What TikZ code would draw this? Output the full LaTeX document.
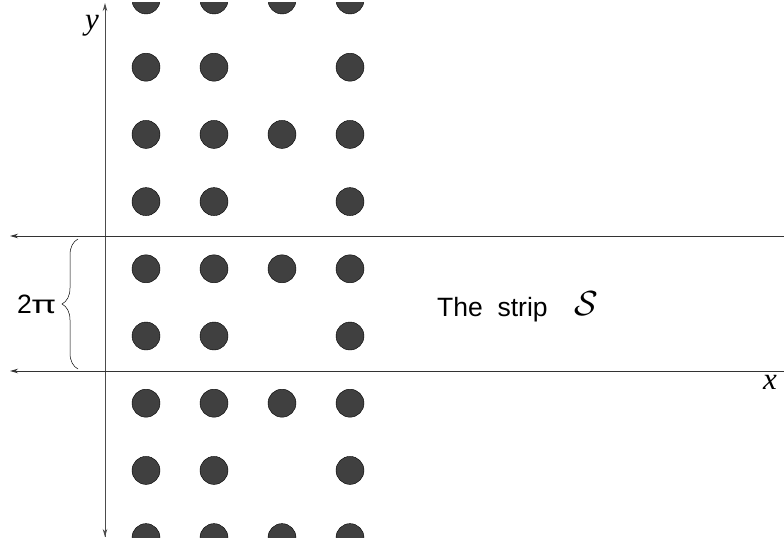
\documentclass[tikz,border=0pt]{standalone}
\usepackage{fontspec}
\setmainfont{Liberation Sans}
\newfontfamily\serifit{Liberation Serif}
\newfontfamily\pifont{Noto Sans}
\usetikzlibrary{arrows.meta,decorations.pathreplacing}
\begin{document}
\begin{tikzpicture}[x=1pt,y=1pt,
  dot/.style={circle,draw=black,line width=0.4pt,fill=black!75,minimum size=28pt,inner sep=0pt},
  axis/.style={draw=black!70,line width=0.9pt,-{Stealth[length=8pt,width=4.5pt,inset=2.5pt]}},
  stripline/.style={draw=black!80,line width=0.9pt,-{Stealth[length=8pt,width=4.5pt,inset=2.5pt]}},
  lbl/.style={inner sep=0pt,font=\fontsize{26.5}{30}\selectfont},
  varlbl/.style={inner sep=0pt,font=\fontsize{31}{34}\selectfont\serifit\itshape}]
\useasboundingbox (0,0) rectangle (784,-546);
% dots
\begin{scope}
\clip (0,-2) rectangle (784,-537);
\foreach \r in {0,...,8}{
  \foreach \c in {0,1,3}{
    \node[dot] (d\r-\c) at ({146+68*\c},{-67.2*\r}) {};
  }
  \ifodd\r\else
    \node[dot] (d\r-2) at (282,{-67.2*\r}) {};
  \fi
}
\end{scope}
% axes
\coordinate (ybot) at (105,-537);
\coordinate (ytop) at (105,-3);
\draw[axis] (ybot) -- (ytop);
\draw[axis] (105,-200) -- (ybot);
\coordinate (u0) at (784,-236);
\coordinate (u1) at (10,-236);
\coordinate (l0) at (784,-371);
\coordinate (l1) at (10,-371);
\draw[stripline] (u0) -- (u1);
\draw[stripline] (l0) -- (l1);
% brace
\coordinate (b0) at (78,-369);
\coordinate (b1) at (78,-239);
\draw[decorate,decoration={brace,amplitude=16pt},line width=0.5pt] (b0) -- (b1);
\node[lbl,anchor=base west] (twopi) at (17,-313) {2\scalebox{1.45}[1]{\pifont\fontsize{25}{28}\selectfont π}};
\node[lbl,anchor=base west] (strip) at (437,-316) {The\ \ strip};
\node[lbl,anchor=base west] (S) at (574,-315) {\scalebox{1.4}{$\mathcal{S}$}};
\node[varlbl,anchor=base] (xl) at (770,-389) {x};
\node[varlbl,anchor=base] (yl) at (92,-29) {y};
\end{tikzpicture}
\end{document}
